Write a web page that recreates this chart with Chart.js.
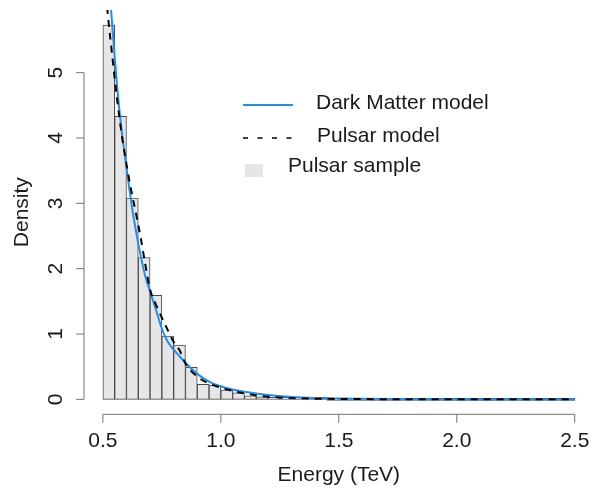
<!DOCTYPE html>
<html>
<head>
<meta charset="utf-8">
<script src="https://cdn.jsdelivr.net/npm/chart.js@4"></script>
<style>
  html, body { margin: 0; padding: 0; background: #fff; }
</style>
</head>
<body>
<canvas id="energy" width="605" height="489"></canvas>
<script>
// histogram bins (left edges, TeV) and sample density
var binLeft = [0.50, 0.55, 0.60, 0.65, 0.70, 0.75, 0.80, 0.85, 0.90, 0.95,
               1.00, 1.05, 1.10, 1.15, 1.20, 1.25, 1.30, 1.35, 1.40, 1.45,
               1.50, 1.55, 1.60, 1.65, 1.70, 1.75, 1.80, 1.85, 1.90, 1.95,
               2.00, 2.05, 2.10, 2.15, 2.20, 2.25, 2.30, 2.35, 2.40, 2.45];
var binWidth = 0.05;
var sampleDensity = [5.73, 4.33, 3.08, 2.17, 1.59, 0.97, 0.83, 0.49, 0.23, 0.22,
                     0.14, 0.10, 0.055, 0.04, 0.02, 0.015, 0.01, 0.008, 0.005, 0,
                     0, 0, 0, 0, 0, 0, 0, 0, 0, 0,
                     0, 0, 0, 0, 0, 0, 0, 0, 0, 0];

// model curves
var modelEnergy = [0.50, 0.52, 0.54, 0.56, 0.58, 0.60, 0.62, 0.64, 0.66, 0.68,
                   0.70, 0.725, 0.75, 0.775, 0.80, 0.825, 0.85, 0.90, 0.95, 1.00,
                   1.05, 1.10, 1.20, 1.30, 1.40, 1.50, 1.75, 2.00, 2.25, 2.50];
var darkMatter = [7.8, 6.7, 5.7, 4.8, 4.1, 3.55, 3.02, 2.58, 2.2, 1.88,
                  1.65, 1.37, 1.08, 0.88, 0.76, 0.66, 0.56, 0.39, 0.27, 0.20,
                  0.15, 0.115, 0.065, 0.035, 0.02, 0.012, 0.005, 0.002, 0.001, 0.0005];
var pulsar = [6.8, 5.93, 5.25, 4.6, 4.05, 3.6, 3.2, 2.85, 2.48, 2.06,
              1.68, 1.45, 1.25, 1.06, 0.88, 0.75, 0.55, 0.35, 0.24, 0.18,
              0.13, 0.09, 0.04, 0.02, 0.01, 0.006, 0.002, 0.001, 0.0005, 0.0003];

var xTicks = [0.5, 1.0, 1.5, 2.0, 2.5];
var xTickLabels = ['0.5', '1.0', '1.5', '2.0', '2.5'];
var yTicks = [0, 1, 2, 3, 4, 5];
var yTickLabels = ['0', '1', '2', '3', '4', '5'];

var FONT = '"Liberation Sans", Arial, Helvetica, sans-serif';
var axisGrey = '#737373';
var textCol = '#1a1a1a';

function pairs(xs, ys) {
  return xs.map(function (x, i) { return { x: x, y: ys[i] }; });
}

// R style axes (line only spans the ticks) + base-graphics legend
var rDecor = {
  id: 'rDecor',
  afterDraw: function (chart) {
    var ctx = chart.ctx, sx = chart.scales.x, sy = chart.scales.y, area = chart.chartArea;
    ctx.save();
    ctx.strokeStyle = axisGrey;
    ctx.lineWidth = 1;
    ctx.fillStyle = textCol;
    ctx.font = '21px ' + FONT;

    // x axis
    var yb = area.bottom;
    ctx.beginPath();
    ctx.moveTo(sx.getPixelForValue(xTicks[0]), yb);
    ctx.lineTo(sx.getPixelForValue(xTicks[xTicks.length - 1]), yb);
    xTicks.forEach(function (t) {
      var p = sx.getPixelForValue(t);
      ctx.moveTo(p, yb);
      ctx.lineTo(p, yb + 8.5);
    });
    ctx.stroke();
    ctx.textAlign = 'center';
    ctx.textBaseline = 'alphabetic';
    xTicks.forEach(function (t, i) {
      ctx.fillText(xTickLabels[i], sx.getPixelForValue(t), 447);
    });
    ctx.fillText('Energy (TeV)', (area.left + area.right) / 2, 481);

    // y axis
    var xl = area.left;
    ctx.beginPath();
    ctx.moveTo(xl, sy.getPixelForValue(yTicks[0]));
    ctx.lineTo(xl, sy.getPixelForValue(yTicks[yTicks.length - 1]));
    yTicks.forEach(function (t) {
      var p = sy.getPixelForValue(t);
      ctx.moveTo(xl, p);
      ctx.lineTo(xl - 8, p);
    });
    ctx.stroke();
    yTicks.forEach(function (t, i) {
      ctx.save();
      ctx.translate(62, sy.getPixelForValue(t));
      ctx.rotate(-Math.PI / 2);
      ctx.fillText(yTickLabels[i], 0, 0);
      ctx.restore();
    });
    ctx.save();
    ctx.translate(28, (area.top + area.bottom) / 2);
    ctx.rotate(-Math.PI / 2);
    ctx.fillText('Density', 0, 0);
    ctx.restore();

    // legend
    var ds = chart.data.datasets;
    ctx.textAlign = 'left';
    ctx.lineWidth = 2;
    ctx.strokeStyle = ds[1].borderColor;
    ctx.beginPath();
    ctx.moveTo(243, 105);
    ctx.lineTo(293, 105);
    ctx.stroke();
    ctx.fillText(ds[1].label, 316, 109);

    ctx.strokeStyle = ds[2].borderColor;
    ctx.lineWidth = 1.6;
    ctx.setLineDash([5, 9.5]);
    ctx.beginPath();
    ctx.moveTo(243, 138);
    ctx.lineTo(293, 138);
    ctx.stroke();
    ctx.setLineDash([]);
    ctx.fillText(ds[2].label, 317, 142);

    ctx.fillStyle = ds[0].backgroundColor;
    ctx.fillRect(245, 164, 18, 13);
    ctx.fillStyle = textCol;
    ctx.fillText(ds[0].label, 288, 172);
    ctx.restore();
  }
};

new Chart(document.getElementById('energy').getContext('2d'), {
  type: 'bar',
  data: {
    datasets: [{
      type: 'bar',
      label: 'Pulsar sample',
      data: pairs(binLeft.map(function (b) { return b + binWidth / 2; }), sampleDensity),
      backgroundColor: '#e6e6e6',
      borderColor: '#4a4a4a',
      borderWidth: 1,
      borderSkipped: false,
      minBarLength: 2,
      barPercentage: 1,
      categoryPercentage: 1,
      order: 3
    }, {
      type: 'line',
      label: 'Dark Matter model',
      data: pairs(modelEnergy, darkMatter),
      borderColor: '#1e8ff0',
      borderWidth: 2,
      pointRadius: 0,
      fill: false,
      cubicInterpolationMode: 'monotone',
      order: 2
    }, {
      type: 'line',
      label: 'Pulsar model',
      data: pairs(modelEnergy, pulsar),
      borderColor: '#000000',
      borderWidth: 2,
      borderDash: [7, 6],
      pointRadius: 0,
      fill: false,
      cubicInterpolationMode: 'monotone',
      order: 1
    }]
  },
  options: {
    responsive: false,
    animation: false,
    layout: {
      padding: { left: 84, right: 11.4, top: 10, bottom: 74.7 }
    },
    plugins: {
      legend: { display: false },
      tooltip: { enabled: false }
    },
    scales: {
      x: {
        type: 'linear',
        display: false,
        offset: false,
        min: 0.42,
        max: 2.58
      },
      y: {
        display: false,
        min: -0.229,
        max: 5.959
      }
    }
  },
  plugins: [rDecor]
});
</script>
</body>
</html>
